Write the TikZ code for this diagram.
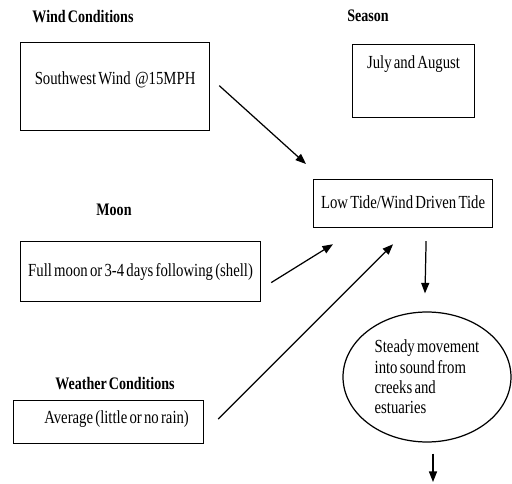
\documentclass[tikz,border=0pt]{standalone}
\usepackage{fontspec}
\setmainfont{Liberation Serif}[FakeStretch=0.8,WordSpace=0.6]
\usetikzlibrary{arrows.meta,calc,shapes.geometric}

\begin{document}
\begin{tikzpicture}[x=0.02cm,y=-0.02cm,line width=0.7pt,
 head/.style={anchor=base,font=\fontsize{10}{11}\selectfont\bfseries},
 box/.style={draw,anchor=north west,inner sep=0pt,font=\fontsize{10.5}{11.6}\selectfont},
 arr/.style={-{Triangle[length=6pt,width=4.6pt]}}]
\useasboundingbox (0,0) rectangle (512,484);

\node[head] (wc) at (83,22) {Wind Conditions};
\node[box,minimum width=3.78cm,text height=0.84cm,text depth=0.92cm] (wind) at (20,42) {Southwest Wind \ @15MPH};

\node[head] (ss) at (368,21) {Season};
\node[box,minimum width=2.44cm,text height=0.48cm,text depth=0.98cm] (season) at (352,44) {July and August};

\node[box,minimum width=3.58cm,text height=0.58cm,text depth=0.38cm] (tide) at (313,179) {Low Tide/Wind Driven Tide};

\node[head] (mn) at (114,215) {Moon};
\node[box,minimum width=4.8cm,text height=0.7cm,text depth=0.5cm] (moon) at (20,241) {Full moon or 3-4 days following (shell)};

\node[head] (wt) at (115,389) {Weather Conditions};
\node[box,minimum width=3.8cm,text height=0.46cm,text depth=0.4cm] (weather) at (13,400) {\hspace*{0.32cm}Average (little or no rain)};

\node[draw,ellipse,minimum width=3.36cm,minimum height=2.6cm,inner sep=0pt,align=left,font=\fontsize{10.5}{11.6}\selectfont] (flow) at (427,377) {Steady movement\\into sound from\\creeks and\\estuaries};
\coordinate (out) at (433,482);

\draw[arr] ($(wind.east)+(9,-1)$) -- ($(tide.north west)+(-7,-15)$);
\draw[arr] ($(moon.east)+(10,11)$) -- ($(tide.south west)+(20,16)$);
\draw[arr] ($(weather.east)+(14,-3)$) -- ($(tide.south)+(-10,16)$);
\draw[arr] ($(tide.south)+(23,13)$) -- ($(flow.north)+(-2,-18)$);
\draw[arr] ($(flow.south)+(6,11)$) -- (out);
\end{tikzpicture}
\end{document}
